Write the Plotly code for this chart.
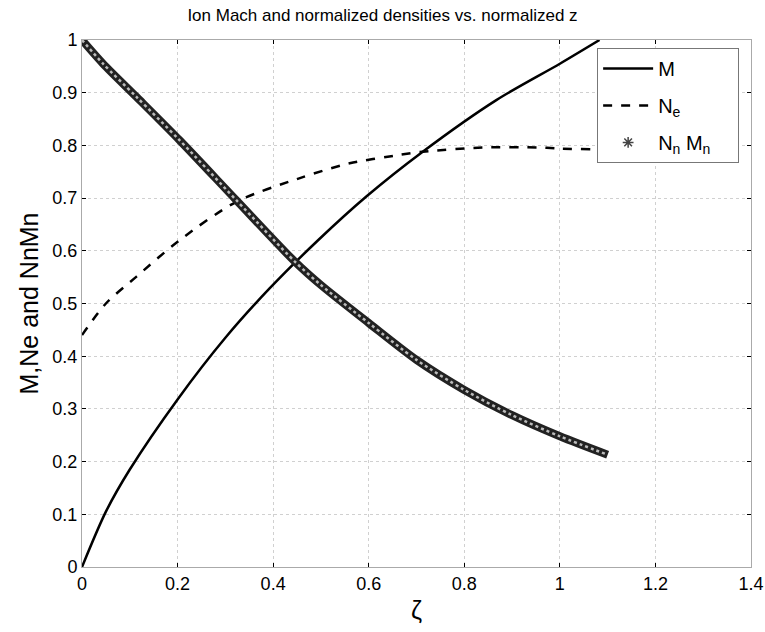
import plotly.graph_objects as go

# Data
m_x = [0, 0.05, 0.1, 0.2, 0.3, 0.393, 0.494, 0.595, 0.713, 0.867, 1.0, 1.083]
m_y = [0, 0.105, 0.185, 0.318, 0.435, 0.529, 0.620, 0.703, 0.788, 0.886, 0.955, 1.0]

ne_x = [0, 0.05, 0.114, 0.204, 0.323, 0.456, 0.56, 0.665, 0.713, 0.839, 0.957, 1.0, 1.1]
ne_y = [0.44, 0.50, 0.551, 0.620, 0.693, 0.738, 0.766, 0.782, 0.788, 0.796, 0.796, 0.794, 0.792]

nn_x = [0, 0.044, 0.114, 0.204, 0.323, 0.446, 0.5, 0.6, 0.7, 0.8, 0.9, 1.0, 1.1]
nn_y = [1.0, 0.955, 0.892, 0.810, 0.696, 0.579, 0.535, 0.463, 0.393, 0.336, 0.288, 0.248, 0.213]

x_ticks = [0, 0.2, 0.4, 0.6, 0.8, 1, 1.2, 1.4]
y_ticks = [0, 0.1, 0.2, 0.3, 0.4, 0.5, 0.6, 0.7, 0.8, 0.9, 1]

FONT = "Liberation Sans, Arial, sans-serif"

fig = go.Figure()
fig.add_trace(go.Scatter(x=m_x, y=m_y, mode="lines", name="M", legendgroup="a",
                         line=dict(color="black", width=2.5, shape="spline", smoothing=0.8)))
fig.add_trace(go.Scatter(x=ne_x, y=ne_y, mode="lines", name="N<sub>e</sub>", legendgroup="b",
                         line=dict(color="black", width=2.5, dash="dash", shape="spline", smoothing=0.8)))
# textured band for Nn Mn (dense markers in the original)
fig.add_trace(go.Scatter(x=nn_x, y=nn_y, mode="lines", showlegend=False, hoverinfo="skip",
                         line=dict(color="#222222", width=8, shape="spline", smoothing=0.8)))
fig.add_trace(go.Scatter(x=nn_x, y=nn_y, mode="lines", showlegend=False, hoverinfo="skip",
                         line=dict(color="#bbbbbb", width=2.5, dash="dot", shape="spline", smoothing=0.8)))
# legend entry for Nn Mn
fig.add_trace(go.Scatter(x=[None], y=[None], mode="markers",
                         name="N<sub>n</sub> M<sub>n</sub>&nbsp;&nbsp;&nbsp;&nbsp;",
                         legendgroup="c",
                         marker=dict(symbol="asterisk", size=9, color="#444444",
                                     line=dict(color="#444444", width=1.5))))

axis_common = dict(showline=True, linecolor="#aaaaaa", linewidth=1, mirror="ticks",
                   ticks="inside", ticklen=4, tickcolor="black", tickwidth=1,
                   showgrid=True, gridcolor="#d0d0d0", griddash="dot", gridwidth=1,
                   zeroline=False, automargin=False,
                   tickfont=dict(family=FONT, size=18, color="black"))

fig.update_xaxes(range=[0, 1.4], tickvals=x_ticks, ticktext=[str(v) for v in x_ticks],
                 title=dict(text="ζ", font=dict(family=FONT, size=25, color="black"), standoff=8),
                 **axis_common)
fig.update_yaxes(range=[0, 1], tickvals=y_ticks, ticktext=[str(v) for v in y_ticks],
                 title=dict(text="M,Ne and NnMn", font=dict(family=FONT, size=25, color="black"), standoff=6),
                 **axis_common)

fig.update_layout(
    width=765, height=632,
    margin=dict(l=82, r=14, t=40, b=65),
    paper_bgcolor="white", plot_bgcolor="white",
    title=dict(text="Ion Mach and normalized densities vs. normalized z",
               x=0.5, xanchor="center", y=0.985, yanchor="top",
               font=dict(family=FONT, size=17, color="black")),
    legend=dict(x=0.77, y=0.985, xanchor="left", yanchor="top",
                bgcolor="white", bordercolor="#777777", borderwidth=1,
                font=dict(family=FONT, size=20, color="black"),
                itemwidth=50, tracegroupgap=8),
    showlegend=True,
)

fig.write_html("out.html")
